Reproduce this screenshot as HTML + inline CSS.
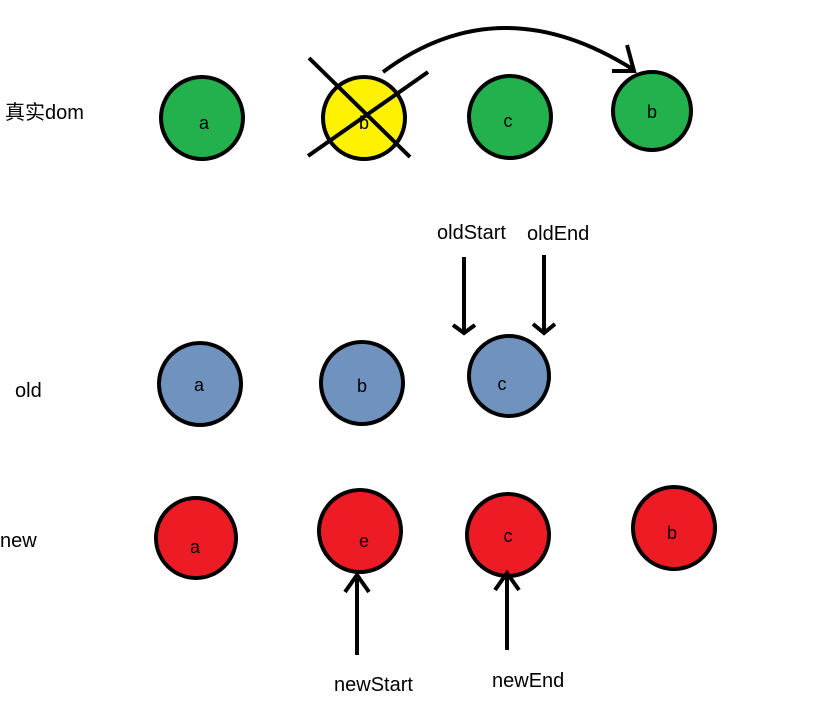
<!DOCTYPE html>
<html><head><meta charset="utf-8"><style>
html,body{margin:0;padding:0;background:#fff;width:814px;height:706px;overflow:hidden}
svg{display:block}
text{font-family:"Liberation Sans","Noto Sans CJK SC",sans-serif;fill:#000}
</style></head><body>
<svg width="814" height="706" viewBox="0 0 814 706">
<g stroke="#000" stroke-width="4">
<circle cx="202" cy="118" r="41" fill="#22b14c"/>
<circle cx="364" cy="118" r="41" fill="#fff200"/>
<circle cx="510" cy="117" r="41" fill="#22b14c"/>
<circle cx="652" cy="111" r="39" fill="#22b14c"/>
<circle cx="200" cy="384" r="41" fill="#7092be"/>
<circle cx="362" cy="383" r="41" fill="#7092be"/>
<circle cx="509" cy="376" r="40" fill="#7092be"/>
<circle cx="196" cy="538" r="40" fill="#ed1c24"/>
<circle cx="360" cy="531" r="41" fill="#ed1c24"/>
<circle cx="508" cy="535" r="41" fill="#ed1c24"/>
<circle cx="674" cy="528" r="41" fill="#ed1c24"/>
</g>
<g stroke="#000" stroke-width="4" fill="none" stroke-linecap="butt">
<line x1="309" y1="58" x2="410" y2="157"/>
<line x1="308" y1="156" x2="428" y2="72"/>
<path d="M383 72 Q500 -15 634 70"/>
<polyline points="627,45 634,71 612,71"/>
<line x1="464" y1="257" x2="464" y2="332"/>
<polyline points="453,325 464,333 475,325"/>
<line x1="544" y1="255" x2="544" y2="333"/>
<polyline points="533,324 544,333 555,324"/>
<line x1="357" y1="575" x2="357" y2="655"/>
<polyline points="345,592 357,575 369,592"/>
<line x1="507" y1="575" x2="507" y2="650"/>
<polyline points="495,590 507,573 519,590"/>
</g>
<g font-size="20">
<text x="5" y="119">真实dom</text>
<text x="15" y="397">old</text>
<text x="0" y="547">new</text>
<text x="437" y="239">oldStart</text>
<text x="527" y="240">oldEnd</text>
<text x="334" y="691">newStart</text>
<text x="492" y="687">newEnd</text>
</g>
<g font-size="18" text-anchor="middle">
<text x="204" y="129">a</text>
<text x="364" y="129" fill="#22b14c">b</text>
<text x="508" y="127">c</text>
<text x="652" y="118">b</text>
<text x="199" y="391">a</text>
<text x="362" y="392">b</text>
<text x="502" y="390">c</text>
<text x="195" y="553">a</text>
<text x="364" y="547">e</text>
<text x="508" y="542">c</text>
<text x="672" y="539">b</text>
</g>
</svg>
</body></html>
